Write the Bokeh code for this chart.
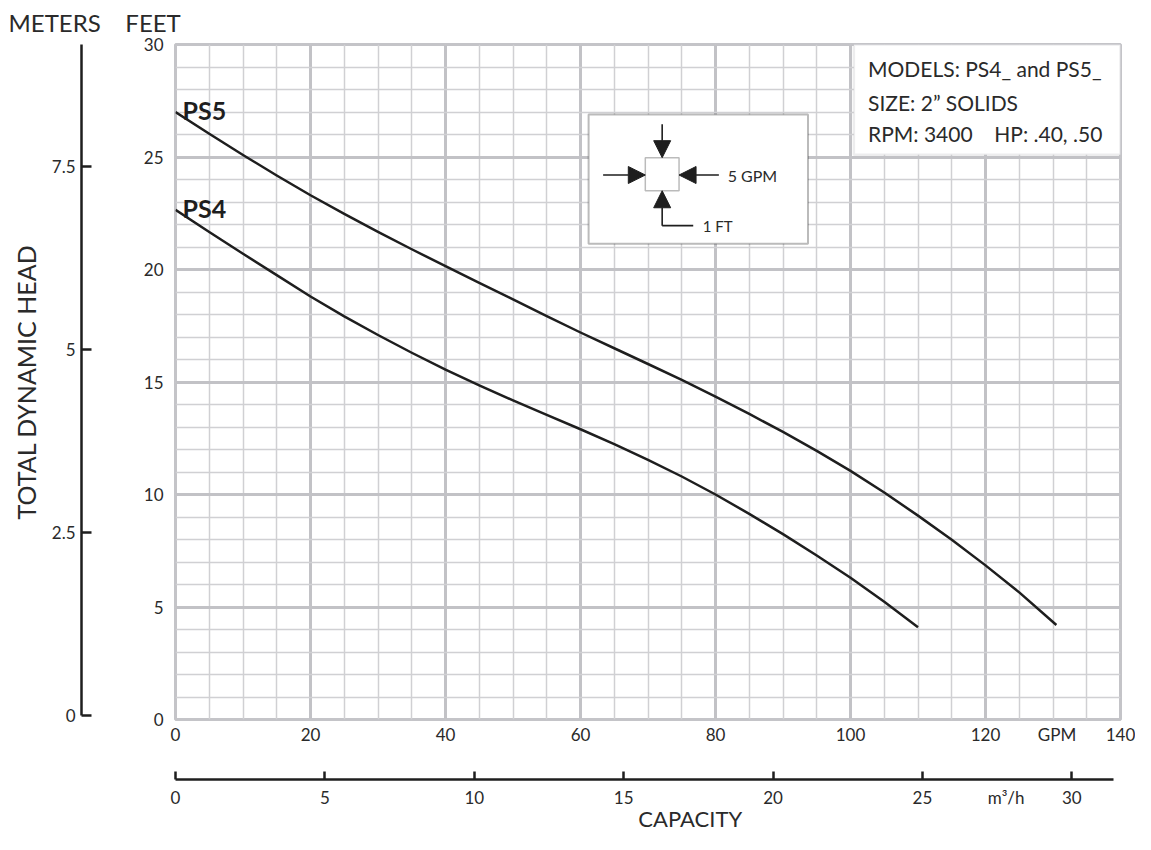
from bokeh.plotting import figure
from bokeh.models import (Range1d, LinearAxis, FixedTicker, NumeralTickFormatter,
                          BoxAnnotation, Arrow, NormalHead, Label)
from bokeh.embed import file_html
from bokeh.resources import INLINE

FONT = "Lato"
INK = "#1e1e1e"
TXT = "#2a2a2a"

# ---------------- data ----------------
gpm_ticks = [0, 20, 40, 60, 80, 100, 120, 140]
gpm_minor = list(range(0, 141, 5))
ft_ticks = [0, 5, 10, 15, 20, 25, 30]
ft_minor = list(range(0, 31))
m_ticks = [0, 2.5, 5, 7.5]
m3h_ticks = [0, 5, 10, 15, 20, 25, 30]
gpm_unit = (130.6, "GPM")          # unit caption placed in the GPM tick row
m3h_unit = (27.8, "m\u00b3/h")     # unit caption placed in the m3/h tick row

ps5_gpm = [0, 5, 10, 15, 20, 25, 30, 35, 40, 45, 50, 55, 60, 65, 70, 75, 80,
           85, 90, 95, 100, 105, 110, 115, 120, 125, 130.5]
ps5_head = [27.0, 26.03, 25.09, 24.18, 23.3, 22.47, 21.67, 20.9, 20.15, 19.41,
            18.67, 17.93, 17.2, 16.5, 15.8, 15.09, 14.35, 13.58, 12.78, 11.94,
            11.05, 10.09, 9.06, 7.99, 6.85, 5.65, 4.2]

ps4_gpm = [0, 5, 10, 15, 20, 25, 30, 35, 40, 45, 50, 55, 60, 65, 70, 75, 80,
           85, 90, 95, 100, 105, 110]
ps4_head = [22.65, 21.67, 20.7, 19.75, 18.8, 17.92, 17.09, 16.3, 15.55, 14.85,
            14.18, 13.54, 12.9, 12.24, 11.54, 10.8, 10.0, 9.14, 8.24, 7.29, 6.3,
            5.23, 4.1]

info_lines = ["MODELS: PS4_ and PS5_", "SIZE: 2\u201d SOLIDS", "RPM: 3400"]
info_hp = "HP: .40, .50"

# ---------------- figure ----------------
p = figure(width=1135, height=834, x_range=Range1d(0, 140), y_range=Range1d(0, 30),
           output_backend="svg", toolbar_location=None,
           min_border_left=175, min_border_right=15, min_border_top=44,
           min_border_bottom=115, background_fill_color="white",
           border_fill_color="white")
p.outline_line_color = "#c4c4c8"
p.outline_line_width = 3

# top-left captions of the two vertical scales
p.title.text = "METERS" + "\u00a0" * 4 + "FEET"
p.title.align = "left"
p.title.vertical_align = "top"
p.title.offset = -167
p.title.standoff = 12
p.title.text_font = FONT
p.title.text_font_size = "24px"
p.title.text_font_style = "normal"
p.title.text_color = TXT

p.extra_x_ranges = {"m3h": Range1d(0, 31.63)}
p.extra_y_ranges = {"m": Range1d(-0.054, 9.167)}

xt = FixedTicker(ticks=gpm_ticks, minor_ticks=gpm_minor)
yt = FixedTicker(ticks=ft_ticks, minor_ticks=ft_minor)

for g, t in ((p.xgrid[0], xt), (p.ygrid[0], yt)):
    g.ticker = t
    g.grid_line_color = "#c2c2c6"
    g.grid_line_width = 3
    g.minor_grid_line_color = "#d0d0d3"
    g.minor_grid_line_width = 1.5


def style_axis(ax, standoff, size="17px"):
    ax.major_label_text_font = FONT
    ax.major_label_text_font_size = size
    ax.major_label_text_color = TXT
    ax.major_label_standoff = standoff
    ax.minor_tick_in = 0
    ax.minor_tick_out = 0
    ax.minor_tick_line_color = None
    ax.axis_label_text_font = FONT
    ax.axis_label_text_font_style = "normal"
    ax.axis_label_text_color = TXT


def no_line(ax):
    ax.axis_line_color = None
    ax.major_tick_line_color = None
    ax.major_tick_in = 0
    ax.major_tick_out = 0


# GPM axis (labels only, plus the "GPM" caption)
xa = p.xaxis[0]
xa.ticker = FixedTicker(ticks=gpm_ticks + [gpm_unit[0]])
xa.major_label_overrides = {gpm_unit[0]: gpm_unit[1]}
style_axis(xa, 4)
no_line(xa)
xa.axis_label = " "
xa.axis_label_text_font_size = "10px"
xa.axis_label_standoff = 17

# feet axis (labels only)
ya = p.yaxis[0]
ya.ticker = yt
style_axis(ya, 12)
no_line(ya)
ya.axis_label = " "
ya.axis_label_text_font_size = "10px"
ya.axis_label_standoff = 44

# meters axis
ma = LinearAxis(y_range_name="m", ticker=FixedTicker(ticks=m_ticks),
                formatter=NumeralTickFormatter(format="0.[0]"), bounds=(0, 9.167))
style_axis(ma, 6)
ma.axis_line_color = INK
ma.axis_line_width = 2.5
ma.major_tick_line_color = INK
ma.major_tick_line_width = 2.5
ma.major_tick_in = 10
ma.major_tick_out = 0
ma.axis_label = "TOTAL DYNAMIC HEAD"
ma.axis_label_text_font_size = "25px"
ma.axis_label_standoff = 8
p.add_layout(ma, "left")

# m3/h axis: line and ticks
hl = LinearAxis(x_range_name="m3h", ticker=FixedTicker(ticks=m3h_ticks), bounds=(0, 31.4))
style_axis(hl, 0, "1px")
hl.major_label_text_color = None
hl.axis_line_color = INK
hl.axis_line_width = 2.5
hl.major_tick_line_color = INK
hl.major_tick_line_width = 2.5
hl.major_tick_in = 8
hl.major_tick_out = 0
p.add_layout(hl, "below")

# m3/h axis: labels, unit caption and the CAPACITY title
hb = LinearAxis(x_range_name="m3h", ticker=FixedTicker(ticks=m3h_ticks + [m3h_unit[0]]))
hb.major_label_overrides = {m3h_unit[0]: m3h_unit[1]}
style_axis(hb, 7)
no_line(hb)
hb.axis_label = "\u00a0" * 15 + "CAPACITY"
hb.axis_label_text_font_size = "22px"
hb.axis_label_standoff = -6
p.add_layout(hb, "below")

# ---------------- curves ----------------
p.line(ps5_gpm, ps5_head, line_width=2.5, line_color=INK, line_join="round")
p.line(ps4_gpm, ps4_head, line_width=2.5, line_color=INK, line_join="round")

for name, xs, ys in (("PS5", ps5_gpm, ps5_head), ("PS4", ps4_gpm, ps4_head)):
    p.add_layout(Label(x=xs[0], y=ys[0], x_offset=7, y_offset=2, text=name,
                       text_font=FONT, text_font_style="bold", text_font_size="25px",
                       text_color=INK, text_baseline="alphabetic"))

# ---------------- info box (top right) ----------------
p.add_layout(BoxAnnotation(left=100.5, right=140, bottom=25.1, top=30,
                           fill_color="white", fill_alpha=1,
                           line_color="#c4c4c8", line_width=2.5))
for txt, yy in zip(info_lines, [28.94, 27.43, 26.06]):
    p.add_layout(Label(x=102.6, y=yy, text=txt, text_font=FONT, text_font_size="21px",
                       text_color=TXT, text_baseline="middle"))
p.add_layout(Label(x=121.3, y=26.06, text=info_hp, text_font=FONT, text_font_size="21px",
                   text_color=TXT, text_baseline="middle"))

# ---------------- scale inset ----------------
p.add_layout(BoxAnnotation(left=61.2, right=93.7, bottom=21.14, top=26.89,
                           fill_color="white", fill_alpha=1,
                           line_color=INK, line_width=2))
p.add_layout(BoxAnnotation(left=69.6, right=74.6, bottom=23.5, top=24.97,
                           fill_color="white", fill_alpha=1,
                           line_color=INK, line_width=1.5))
cx, cy = 72.1, 24.2


def head():
    return NormalHead(size=17, fill_color=INK, line_color=INK, line_width=1)


p.add_layout(Arrow(end=head(), x_start=63.35, y_start=cy, x_end=69.6, y_end=cy,
                   line_color=INK, line_width=1.6))
p.add_layout(Arrow(end=head(), x_start=80.5, y_start=cy, x_end=74.6, y_end=cy,
                   line_color=INK, line_width=1.6))
p.add_layout(Arrow(end=head(), x_start=cx, y_start=26.46, x_end=cx, y_end=24.97,
                   line_color=INK, line_width=1.6))
p.add_layout(Arrow(end=head(), x_start=cx, y_start=21.95, x_end=cx, y_end=23.5,
                   line_color=INK, line_width=1.6))
p.add_layout(Arrow(end=None, x_start=cx, y_start=21.95, x_end=76.7, y_end=21.95,
                   line_color=INK, line_width=1.6))
p.add_layout(Label(x=81.8, y=cy, text="5 GPM", text_font=FONT, text_font_size="16px",
                   text_color=TXT, text_baseline="middle"))
p.add_layout(Label(x=78.1, y=21.95, text="1 FT", text_font=FONT, text_font_size="15px",
                   text_color=TXT, text_baseline="middle"))

open("out.html", "w").write(file_html(p, INLINE))
